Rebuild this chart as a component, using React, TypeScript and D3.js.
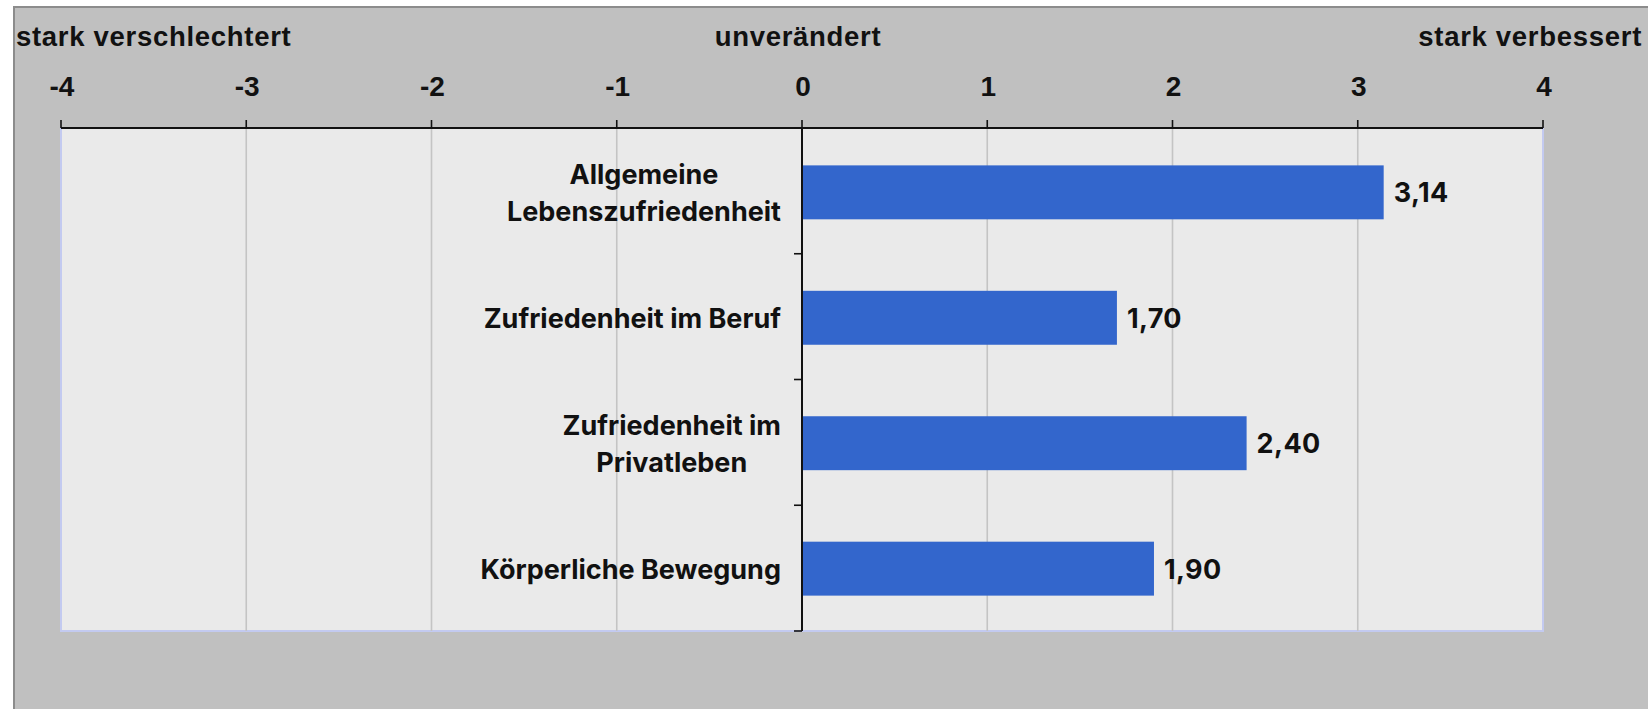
import { useEffect, useRef } from "react";
import * as d3 from "d3";

// Kategorien (Zeilenumbruch mit \n) und Werte
const categories = [
  "Allgemeine\nLebenszufriedenheit",
  "Zufriedenheit im Beruf",
  "Zufriedenheit im\nPrivatleben",
  "Körperliche Bewegung",
];
const values = [3.14, 1.7, 2.4, 1.9];
const tickValues = [-4, -3, -2, -1, 0, 1, 2, 3, 4];
const scaleLabels = ["stark verschlechtert", "unverändert", "stark verbessert"];

const App = () => {
  const chartRef = useRef<HTMLDivElement>(null);

  useEffect(() => {
    const width = 1648;
    const height = 709;
    const plot = { left: 61, right: 1543, top: 128, bottom: 631 };
    const labelFont = "'Liberation Sans', Arial, sans-serif";
    const catFont = "Inter, 'Noto Sans', sans-serif";

    d3.select(chartRef.current).selectAll("*").remove();

    const svg = d3
      .select(chartRef.current)
      .append("svg")
      .attr("width", width)
      .attr("height", height)
      .style("display", "block");

    // Hintergrund
    svg.append("rect").attr("width", width).attr("height", height).attr("fill", "#ffffff");
    svg
      .append("rect")
      .attr("x", 14)
      .attr("y", 7)
      .attr("width", width)
      .attr("height", height)
      .attr("fill", "#c0c0c0")
      .attr("stroke", "#8c8c8c")
      .attr("stroke-width", 2);

    const x = d3.scaleLinear().domain([-4, 4]).range([plot.left, plot.right]);
    const y = d3
      .scaleBand()
      .domain(categories)
      .range([plot.top, plot.bottom])
      .paddingInner(0.57)
      .paddingOuter(0.29);
    const band = (plot.bottom - plot.top) / categories.length;

    // Plotfläche
    svg
      .append("rect")
      .attr("x", plot.left)
      .attr("y", plot.top)
      .attr("width", plot.right - plot.left)
      .attr("height", plot.bottom - plot.top)
      .attr("fill", "#eaeaea")
      .attr("stroke", "#c3caf0")
      .attr("stroke-width", 2);

    // Gitterlinien
    svg
      .append("g")
      .selectAll("line")
      .data(tickValues.filter((t) => t !== 0 && t !== -4 && t !== 4))
      .enter()
      .append("line")
      .attr("x1", (d) => x(d))
      .attr("x2", (d) => x(d))
      .attr("y1", plot.top)
      .attr("y2", plot.bottom)
      .attr("stroke", "#c4c4c4")
      .attr("stroke-width", 1.6);

    // Balken
    svg
      .append("g")
      .selectAll("rect")
      .data(values)
      .enter()
      .append("rect")
      .attr("x", x(0))
      .attr("y", (_, i) => (y(categories[i]) as number) + 1)
      .attr("width", (d) => x(d) - x(0))
      .attr("height", y.bandwidth())
      .attr("fill", "#3366cc");

    // Werte
    svg
      .append("g")
      .selectAll("text")
      .data(values)
      .enter()
      .append("text")
      .attr("x", (d) => x(d) + 10)
      .attr("y", (_, i) => (y(categories[i]) as number) + y.bandwidth() / 2 + 11)
      .attr("font-family", catFont)
      .attr("font-weight", 700)
      .attr("font-size", 27)
      .attr("letter-spacing", 0.4)
      .attr("fill", "#111")
      .text((d) => d3.format(".2f")(d).replace(".", ","));

    // X-Achse oben
    const xAxis = svg.append("g").attr("transform", `translate(0,${plot.top})`);
    xAxis
      .append("line")
      .attr("x1", plot.left)
      .attr("x2", plot.right)
      .attr("stroke", "#111")
      .attr("stroke-width", 2);
    xAxis
      .selectAll("line.tick")
      .data(tickValues)
      .enter()
      .append("line")
      .attr("class", "tick")
      .attr("x1", (d) => x(d))
      .attr("x2", (d) => x(d))
      .attr("y1", -8)
      .attr("y2", 0)
      .attr("stroke", "#111")
      .attr("stroke-width", 1.6);
    xAxis
      .selectAll("text")
      .data(tickValues)
      .enter()
      .append("text")
      .attr("x", (d) => x(d) + 1)
      .attr("y", -32)
      .attr("text-anchor", "middle")
      .attr("font-family", labelFont)
      .attr("font-weight", 700)
      .attr("font-size", 28)
      .attr("fill", "#111")
      .text((d) => d);

    // Skalenbeschriftung
    const anchors = ["start", "middle", "end"];
    const pos = [16, x(0) - 4, width - 6];
    svg
      .append("g")
      .selectAll("text")
      .data(scaleLabels)
      .enter()
      .append("text")
      .attr("x", (_, i) => pos[i])
      .attr("y", 46)
      .attr("text-anchor", (_, i) => anchors[i])
      .attr("font-family", labelFont)
      .attr("font-weight", 700)
      .attr("font-size", 27.5)
      .attr("letter-spacing", 0.7)
      .attr("fill", "#111")
      .text((d) => d);

    // Y-Achse bei 0
    const yAxis = svg.append("g");
    yAxis
      .append("line")
      .attr("x1", x(0))
      .attr("x2", x(0))
      .attr("y1", plot.top)
      .attr("y2", plot.bottom)
      .attr("stroke", "#111")
      .attr("stroke-width", 2);
    yAxis
      .selectAll("line.tick")
      .data(d3.range(categories.length + 1))
      .enter()
      .append("line")
      .attr("class", "tick")
      .attr("x1", x(0) - 8)
      .attr("x2", x(0))
      .attr("y1", (d) => plot.top + d * band)
      .attr("y2", (d) => plot.top + d * band)
      .attr("stroke", "#111")
      .attr("stroke-width", 1.6);

    // Kategorien, Zeilen zentriert, Block rechtsbündig
    const rightEdge = x(0) - 21;
    const lineH = 37;
    categories.forEach((cat) => {
      const lines = cat.split("\n");
      const cy = (y(cat) as number) + y.bandwidth() / 2;
      const g = yAxis.append("g");
      const texts = g
        .selectAll("text")
        .data(lines)
        .enter()
        .append("text")
        .attr("y", (_, i) => cy + 11 + (i - (lines.length - 1) / 2) * lineH)
        .attr("text-anchor", "middle")
        .attr("font-family", catFont)
        .attr("font-weight", 700)
        .attr("font-size", 27)
        .attr("fill", "#111")
        .text((d) => d);
      const maxW = d3.max(texts.nodes(), (n) => (n as SVGTextElement).getComputedTextLength()) || 0;
      texts.attr("x", rightEdge - maxW / 2);
    });
  }, []);

  return (
    <div
      ref={chartRef}
      style={{ position: "absolute", left: 0, top: 0, width: 1648, height: 709, overflow: "hidden" }}
    ></div>
  );
};

export default App;
